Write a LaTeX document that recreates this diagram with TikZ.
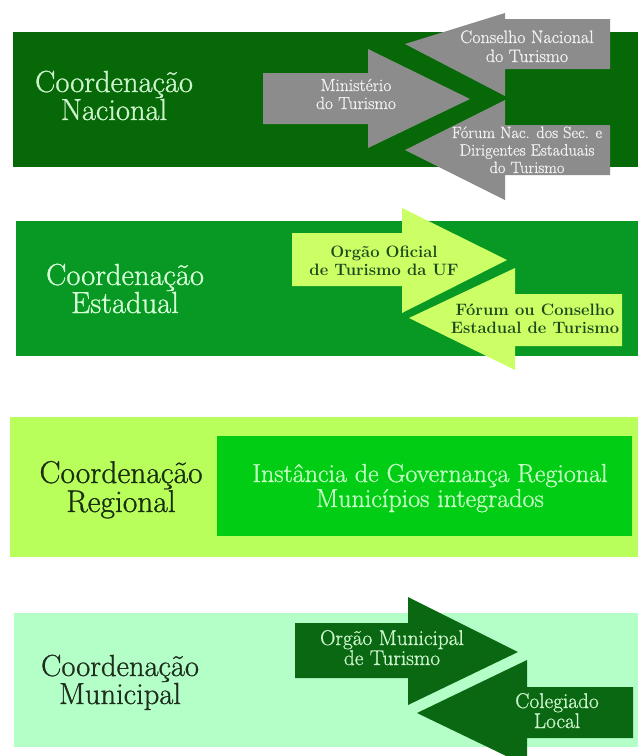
\documentclass[tikz,border=0pt]{standalone}
\usepackage{fontspec}
\newfontfamily\heavyrm{Latin Modern Roman}[FakeBold=0.9]
\definecolor{natbg}{RGB}{6,104,6}
\definecolor{natarrow}{RGB}{140,140,140}
\definecolor{natlbl}{RGB}{205,245,205}
\definecolor{natarrtxt}{RGB}{240,240,240}
\definecolor{estbg}{RGB}{8,152,36}
\definecolor{estarrow}{RGB}{204,255,102}
\definecolor{esttxt}{RGB}{28,72,28}
\definecolor{estlbl}{RGB}{215,255,215}
\definecolor{regbg}{RGB}{185,255,92}
\definecolor{regbox}{RGB}{0,205,20}
\definecolor{regboxtxt}{RGB}{195,255,195}
\definecolor{reglbl}{RGB}{25,45,15}
\definecolor{munbg}{RGB}{180,255,200}
\definecolor{munarrow}{RGB}{10,104,18}
\definecolor{muntxt}{RGB}{205,245,205}
\definecolor{munlbl}{RGB}{30,45,30}
\newcommand{\mylines}[1]{\vtop{\let\\\cr\halign{\hfil##\hfil\cr#1\crcr}}}
\begin{document}
\begin{tikzpicture}[x=1pt,y=-1pt,
  txt/.style={inner sep=0pt, outer sep=0pt, anchor=base},
  bigl/.style={txt, font=\heavyrm\fontsize{30.5}{28}\selectfont},
  graytxt/.style={txt, text=natarrtxt, font=\heavyrm\fontsize{17.5}{18}\selectfont},
  esttxtstyle/.style={txt, text=esttxt, font=\fontsize{16.5}{18}\selectfont\bfseries},
  muntxtstyle/.style={txt, text=muntxt, font=\heavyrm\fontsize{21.3}{20}\selectfont},
]
\useasboundingbox (0,0) rectangle (640,756);
\clip (0,0) rectangle (640,756);
\fill[white] (0,0) rectangle (640,756);

% ---- Coordenacao Nacional ----
\fill[natbg] (13,32) rectangle (638,167);
\fill[natarrow] (263,73) -- (368,73) -- (368,49) -- (470,99) -- (368,148) -- (368,124) -- (263,124) -- cycle;
\fill[natarrow] (405,44) -- (505,13) -- (505,19) -- (610,19) -- (610,69) -- (505,69) -- (505,96) -- cycle;
\fill[natarrow] (405,150) -- (505,100) -- (505,125) -- (610,125) -- (610,175) -- (505,175) -- (505,200) -- cycle;
\node[bigl, text=natlbl] (nac) at (114,92) {\mylines{Coordenação\\Nacional}};
\node[graytxt] (min) at (356,91) {\mylines{Ministério\\do Turismo}};
\node[graytxt, font=\heavyrm\fontsize{18}{19}\selectfont] (cons) at (527,43) {\mylines{Conselho Nacional\\do Turismo}};
\node[graytxt, font=\heavyrm\fontsize{16.4}{17.5}\selectfont] (forn) at (527,138) {\mylines{Fórum Nac. dos Sec. e\\Dirigentes Estaduais\\do Turismo}};

% ---- Coordenacao Estadual ----
\fill[estbg] (16,221) rectangle (638,356);
\fill[estarrow] (292,233) -- (402,233) -- (402,208) -- (507,260) -- (402,313) -- (402,286) -- (292,286) -- cycle;
\fill[estarrow] (409,318) -- (515,268) -- (515,294) -- (622,294) -- (622,346) -- (515,346) -- (515,370) -- cycle;
\node[bigl, text=estlbl] (est) at (125,285) {\mylines{Coordenação\\Estadual}};
\node[esttxtstyle] (org) at (384,257) {\mylines{Orgão Oficial\\de Turismo da UF}};
\node[esttxtstyle] (fore) at (535,315) {\mylines{Fórum ou Conselho\\Estadual de Turismo}};

% ---- Coordenacao Regional ----
\fill[regbg] (10,417) rectangle (638,557);
\fill[regbox] (217,436) rectangle (632,536);
\node[bigl, text=reglbl, font=\heavyrm\fontsize{31.5}{29}\selectfont] (reg) at (121,483) {\mylines{Coordenação\\Regional}};
\node[txt, text=regboxtxt, font=\heavyrm\fontsize{26}{25}\selectfont] (igr) at (430,482) {\mylines{Instância de Governança Regional\\Municípios integrados}};

% ---- Coordenacao Municipal ----
\fill[munbg] (14,613) rectangle (638,747);
\fill[munarrow] (295,623) -- (408,623) -- (408,597) -- (518,652) -- (408,705) -- (408,678) -- (295,678) -- cycle;
\fill[munarrow] (417,713) -- (527,660) -- (527,687) -- (633,687) -- (633,738) -- (527,738) -- (527,766) -- cycle;
\node[bigl, text=munlbl] (mun) at (120,676) {\mylines{Coordenação\\Municipal}};
\node[muntxtstyle] (omt) at (392,645) {\mylines{Orgão Municipal\\de Turismo}};
\node[muntxtstyle] (col) at (557,708) {\mylines{Colegiado\\Local}};
\end{tikzpicture}
\end{document}
